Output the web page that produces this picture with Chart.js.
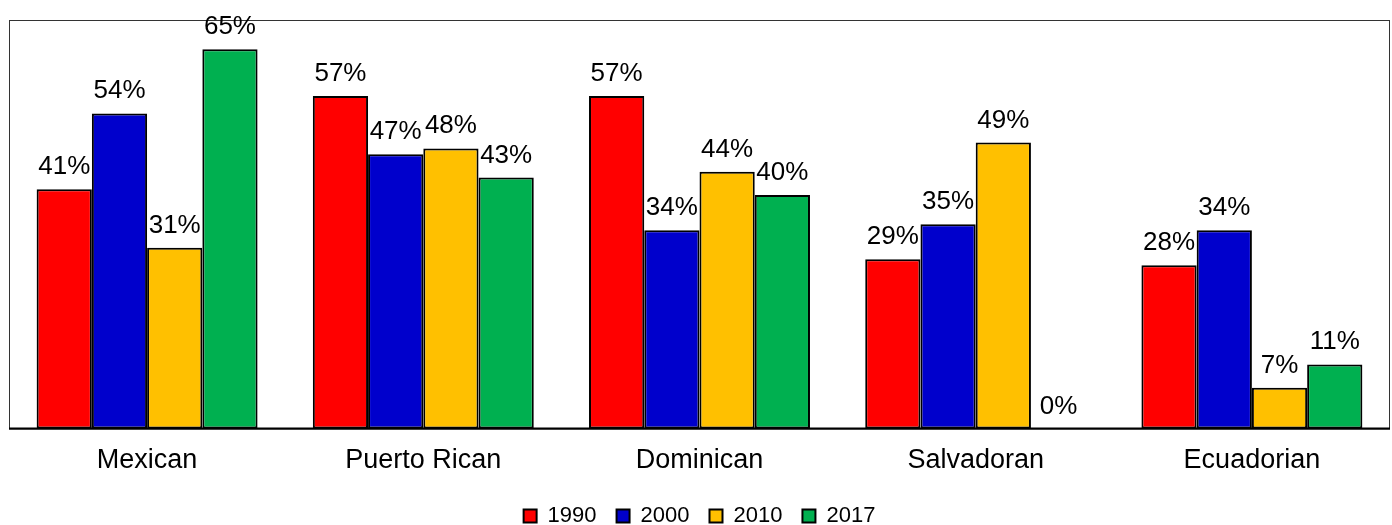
<!DOCTYPE html>
<html>
<head>
<meta charset="utf-8">
<script src="https://cdn.jsdelivr.net/npm/chart.js@4/dist/chart.umd.min.js"></script>
<style>
  html, body { margin: 0; padding: 0; background: #fff; }
  #wrap { width: 1392px; height: 525px; }
</style>
</head>
<body>
<div id="wrap"><canvas id="chart"></canvas></div>
<script>
// origin groups along the x axis
const groups = ["Mexican", "Puerto Rican", "Dominican", "Salvadoran", "Ecuadorian"];
const years = ["1990", "2000", "2010", "2017"];

// share (%) per year, one value per group
const v1990 = [41, 57, 57, 29, 28];
const v2000 = [54, 47, 34, 35, 34];
const v2010 = [31, 48, 44, 49, 7];
const v2017 = [65, 43, 40, 0, 11];

const colors = ["#FF0000", "#0000CC", "#FFC000", "#00B050"];
const FONT = "'Liberation Sans', Arial, sans-serif";

const series = [v1990, v2000, v2010, v2017];

// frame around the plot, heavier baseline
const frame = {
  id: "frame",
  beforeDatasetsDraw(chart) {
    const a = chart.chartArea, ctx = chart.ctx;
    ctx.save();
    ctx.strokeStyle = "#333";
    ctx.lineWidth = 1;
    ctx.strokeRect(a.left + 0.5, a.top + 0.5, a.right - a.left - 1, a.bottom - a.top);
    ctx.restore();
  },
  afterDatasetsDraw(chart) {
    const a = chart.chartArea, ctx = chart.ctx;
    ctx.save();
    ctx.strokeStyle = "#000";
    ctx.lineWidth = 2;
    ctx.beginPath();
    ctx.moveTo(a.left, a.bottom);
    ctx.lineTo(a.right, a.bottom);
    ctx.stroke();
    ctx.restore();
  }
};

// percentage labels above each bar
const valueLabels = {
  id: "valueLabels",
  afterDatasetsDraw(chart) {
    const ctx = chart.ctx;
    ctx.save();
    ctx.font = "26px " + FONT;
    ctx.fillStyle = "#000";
    ctx.textAlign = "center";
    ctx.textBaseline = "alphabetic";
    chart.data.datasets.forEach((ds, i) => {
      chart.getDatasetMeta(i).data.forEach((bar, j) => {
        ctx.fillText(ds.data[j] + "%", bar.x, bar.y - 15);
      });
    });
    ctx.restore();
  }
};

new Chart(document.getElementById("chart"), {
  type: "bar",
  data: {
    labels: groups,
    datasets: years.map((y, i) => ({
      label: y,
      data: series[i],
      backgroundColor: colors[i],
      borderColor: "#000",
      borderWidth: 2,
      borderSkipped: false,
      categoryPercentage: 0.8,
      barPercentage: 1.0
    }))
  },
  options: {
    responsive: true,
    maintainAspectRatio: false,
    animation: false,
    layout: { padding: { left: 9, right: 2, top: 20, bottom: -12 } },
    scales: {
      y: { display: false, min: 0, max: 70 },
      x: {
        grid: { display: false },
        border: { display: false },
        ticks: { color: "#000", font: { family: FONT, size: 27 }, padding: 8 }
      }
    },
    plugins: {
      tooltip: { enabled: false },
      legend: {
        position: "bottom",
        labels: {
          color: "#000",
          font: { family: FONT, size: 22, lineHeight: 1 },
          boxWidth: 13,
          boxHeight: 13,
          padding: 20
        }
      }
    }
  },
  plugins: [frame, valueLabels]
});
</script>
</body>
</html>
